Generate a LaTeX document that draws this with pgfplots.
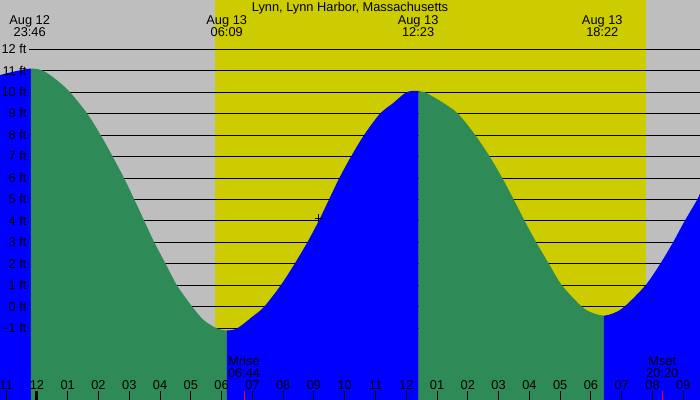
\documentclass[border=0pt]{standalone}
\usepackage{fontspec}
\setmainfont{Liberation Sans}
\usepackage{pgfplots}
\pgfplotsset{compat=1.18}
\usepgfplotslibrary{fillbetween}
\tikzset{fill between/on layer=main}

\definecolor{nightgray}{RGB}{190,190,190}
\definecolor{dayyellow}{RGB}{204,204,0}
\definecolor{ebbgreen}{RGB}{46,139,87}
\definecolor{floodblue}{RGB}{0,0,255}
\newcommand\tf{\fontsize{12.8pt}{15pt}\selectfont}
\tikzset{lbl/.style={font=\tf, anchor=base, inner sep=0pt, text depth=0pt}}

\begin{document}
\begin{tikzpicture}
\begin{axis}[
    width=700pt, height=400pt, scale only axis,
    xmin=-1.1995, xmax=21.543,
    ymin=-4.342, ymax=14.297,
    axis line style={draw=none},
    axis on top,
    xtick={-1,0,...,21},
    xticklabels={11,12,01,02,03,04,05,06,07,08,09,10,11,12,01,02,03,04,05,06,07,08,09},
    xtick pos=left,
    tick align=inside,
    major tick length=9pt,
    xtick style={black, line width=1pt},
    xticklabel style={anchor=base, inner sep=0pt, yshift=10pt, font=\tf},
    ytick={-1,0,...,12},
    yticklabels={-1 ft,0 ft,1 ft,2 ft,3 ft,4 ft,5 ft,6 ft,7 ft,8 ft,9 ft,10 ft,11 ft,12 ft},
    ytick pos=left,
    ytick style={draw=none},
    yticklabel style={anchor=base east, inner sep=0pt, xshift=26.7pt, yshift=-4.3pt, font=\tf},
]
% night / day background
\fill[nightgray] (axis cs:-1.1995,-4.342) rectangle (axis cs:21.543,14.297);
\fill[dayyellow] (axis cs:5.79,-4.342) rectangle (axis cs:19.79,14.297);

% height lines
\pgfplotsinvokeforeach{-1,...,12}{
  \draw[black, line width=1pt] (axis cs:-0.2476,#1) -- (axis cs:21.543,#1);
}

% tide height, hours after midnight Aug 13
\addplot[name path=tide, draw=none, smooth] coordinates {
  (-1.1995,10.80) (-0.72,10.97) (-0.2,11.10) (0.2,11.0) (0.64,10.57)
  (1.075,10) (1.637,9) (2.072,8) (2.462,7) (2.829,6) (3.164,5) (3.489,4)
  (3.814,3) (4.184,2) (4.551,1) (5.048,0) (5.42,-0.62) (5.841,-1.0)
  (6.166,-1.1) (6.51,-1.0) (7.0,-0.46) (7.38,0) (7.92,1)
  (8.37,2) (8.784,3) (9.155,4) (9.489,5) (9.824,6) (10.204,7) (10.626,8)
  (11.146,9) (11.58,9.5) (12.01,10.0) (12.40,10.06) (12.6,10) (13.14,9.56)
  (13.68,9) (14.242,8) (14.71,7) (15.119,6) (15.49,5) (15.847,4) (16.224,3)
  (16.636,2) (17.059,1) (17.708,0) (18.08,-0.30) (18.42,-0.41) (18.73,-0.30)
  (19.083,0) (19.77,1) (20.25,2) (20.665,3) (21.045,4) (21.455,5) (21.543,5.29)};
\path[name path=base] (axis cs:-1.1995,-4.342) -- (axis cs:21.543,-4.342);

% rising tide blue, falling tide green
\addplot[floodblue] fill between[of=tide and base, soft clip={domain=-1.1995:-0.2}];
\addplot[ebbgreen] fill between[of=tide and base, soft clip={domain=-0.2:6.166}];
\addplot[floodblue] fill between[of=tide and base, soft clip={domain=6.166:12.40}];
\addplot[ebbgreen] fill between[of=tide and base, soft clip={domain=12.40:18.42}];
\addplot[floodblue] fill between[of=tide and base, soft clip={domain=18.42:21.543}];

% now
\addplot[only marks, mark=+, mark size=4pt, black, line width=0.8pt]
  coordinates {(9.16,4.13)};

% midnight and moon ticks
\draw[black, line width=3pt] (axis cs:0,-4.342) -- (axis cs:0,-3.9226);
\draw[red, line width=1pt] (axis cs:6.733,-4.342) -- (axis cs:6.733,-3.9226);
\draw[red, line width=1pt] (axis cs:20.333,-4.342) -- (axis cs:20.333,-3.9226);

% texts
\node[lbl] at (rel axis cs:0.5,0.97) {Lynn, Lynn Harbor, Massachusetts};
\node[lbl] at (rel axis cs:0.0424,0.93925) {Aug 12};
\node[lbl] at (rel axis cs:0.0424,0.90925) {23:46};
\node[lbl] at (rel axis cs:0.3239,0.93925) {Aug 13};
\node[lbl] at (rel axis cs:0.3239,0.90925) {06:09};
\node[lbl] at (rel axis cs:0.5973,0.93925) {Aug 13};
\node[lbl] at (rel axis cs:0.5973,0.90925) {12:23};
\node[lbl] at (rel axis cs:0.8604,0.93925) {Aug 13};
\node[lbl] at (rel axis cs:0.8604,0.90925) {18:22};
\node[lbl] at (rel axis cs:0.3486,0.085) {Mrise};
\node[lbl] at (rel axis cs:0.3486,0.05575) {06:44};
\node[lbl] at (rel axis cs:0.9461,0.085) {Mset};
\node[lbl] at (rel axis cs:0.9461,0.05575) {20:20};
\end{axis}
\pgfresetboundingbox
\path[use as bounding box] (current axis.south west) rectangle (current axis.north east);
\end{tikzpicture}
\end{document}
